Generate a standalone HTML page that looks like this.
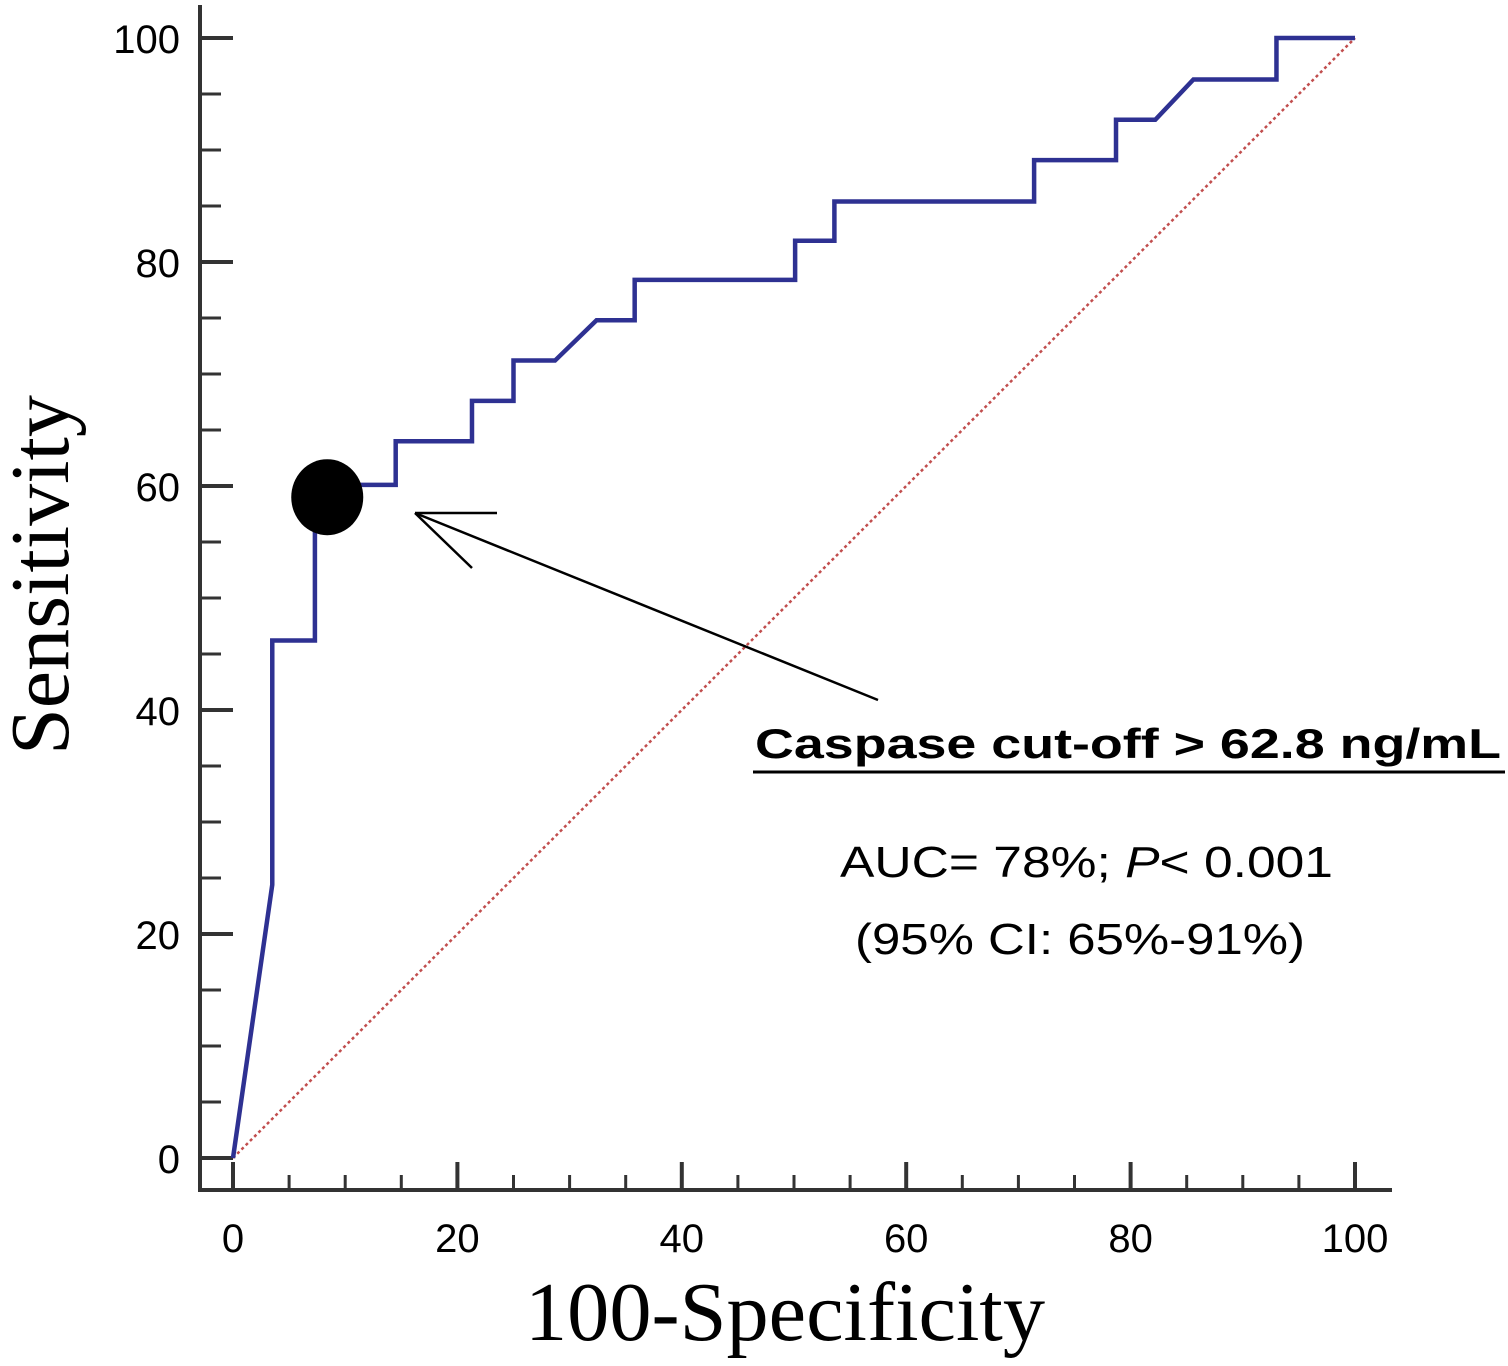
<!DOCTYPE html>
<html><head><meta charset="utf-8"><style>
html,body{margin:0;padding:0;background:#fff;}
svg{display:block;}
</style></head><body>
<svg id="chart" width="1508" height="1366" viewBox="0 0 1508 1366" xmlns="http://www.w3.org/2000/svg">
<g id="axes"></g>
<line id="diag" stroke="#b22222" stroke-width="2.5" stroke-dasharray="3,3" opacity="0.8"/>
<polyline id="roc" fill="none" stroke="#2e3192" stroke-width="4.5" stroke-linejoin="miter"/>
<ellipse id="cutoff" rx="36" ry="38" fill="#000"/>
<g stroke="#000" stroke-width="2.5" fill="none">
<line x1="878" y1="700" x2="415" y2="513"/>
<line x1="415" y1="513" x2="497" y2="513"/>
<line x1="415" y1="513" x2="472" y2="568"/>
</g>
<text x="755" y="758" font-family="Liberation Sans, sans-serif" font-weight="bold" font-size="42" textLength="746" lengthAdjust="spacingAndGlyphs">Caspase cut-off &gt; 62.8 ng/mL</text>
<line x1="753" y1="772" x2="1505" y2="772" stroke="#000" stroke-width="3"/>
<text x="840" y="877" font-family="Liberation Sans, sans-serif" font-size="44" textLength="493" lengthAdjust="spacingAndGlyphs">AUC= 78%; <tspan font-style="italic">P</tspan>&lt; 0.001</text>
<text x="855" y="954" font-family="Liberation Sans, sans-serif" font-size="44" textLength="450" lengthAdjust="spacingAndGlyphs">(95% CI: 65%-91%)</text>
<text transform="translate(68,575) rotate(-90)" text-anchor="middle" font-family="Liberation Serif, serif" font-size="84" textLength="360" lengthAdjust="spacingAndGlyphs">Sensitivity</text>
<text x="785" y="1340" text-anchor="middle" font-family="Liberation Serif, serif" font-size="84" textLength="520" lengthAdjust="spacingAndGlyphs">100-Specificity</text>
</svg>
<script>
const fprValues = [0, 3.5, 3.5, 7.3, 7.3, 14.5, 14.5, 21.3, 21.3, 25.0, 25.0, 28.7, 32.4, 35.8, 35.8, 50.1, 50.1, 53.6, 53.6, 71.4, 71.4, 78.7, 78.7, 82.2, 85.6, 93.0, 93.0, 100];
const sensValues = [0, 24.4, 46.2, 46.2, 60.1, 60.1, 64.0, 64.0, 67.6, 67.6, 71.2, 71.2, 74.8, 74.8, 78.4, 78.4, 81.9, 81.9, 85.4, 85.4, 89.1, 89.1, 92.7, 92.7, 96.3, 96.3, 100, 100];
const cutoffPoint = [8.4, 59.0];
const tickLabels = [0, 20, 40, 60, 80, 100];
const minorTicks = [5,10,15,25,30,35,45,50,55,65,70,75,85,90,95];

function xs(v){ return 233 + v * 11.22; }
function ys(v){ return 1158 - v * 11.2; }
const NS = 'http://www.w3.org/2000/svg';
const axes = document.getElementById('axes');
function mk(tag, attrs, parent){
  const e = document.createElementNS(NS, tag);
  for (const k in attrs) e.setAttribute(k, attrs[k]);
  (parent||axes).appendChild(e); return e;
}
let l = mk('line',{x1:200,y1:5,x2:200,y2:1192,stroke:'#333','stroke-width':4});


l = mk('line',{x1:198,y1:1190,x2:1392,y2:1190,stroke:'#333','stroke-width':4});


tickLabels.forEach(t=>{
  let a = mk('line',{x1:200,y1:ys(t),x2:233,y2:ys(t),stroke:'#333','stroke-width':4});
  
  
  let b = mk('line',{x1:xs(t),y1:1190,x2:xs(t),y2:1162,stroke:'#333','stroke-width':4});
  
  
  let ty = mk('text',{x:180,y:ys(t)+15,'text-anchor':'end','font-family':'Liberation Sans, sans-serif','font-size':40});
  ty.textContent = t;
  
  
  let tx = mk('text',{x:xs(t),y:1252,'text-anchor':'middle','font-family':'Liberation Sans, sans-serif','font-size':40});
  tx.textContent = t;
  
  
});
minorTicks.forEach(t=>{
  let a = mk('line',{x1:200,y1:ys(t),x2:221,y2:ys(t),stroke:'#333','stroke-width':3});
  
  
  let b = mk('line',{x1:xs(t),y1:1190,x2:xs(t),y2:1175,stroke:'#333','stroke-width':3});
  
  
});
const d = document.getElementById('diag');
d.setAttribute('x1', xs(0)); d.setAttribute('y1', ys(0));
d.setAttribute('x2', xs(100)); d.setAttribute('y2', ys(100));
document.getElementById('roc').setAttribute('points', fprValues.map((v,i)=>xs(v)+','+ys(sensValues[i])).join(' '));
const c = document.getElementById('cutoff');
c.setAttribute('cx', xs(cutoffPoint[0])); c.setAttribute('cy', ys(cutoffPoint[1]));
</script>
</body></html>
